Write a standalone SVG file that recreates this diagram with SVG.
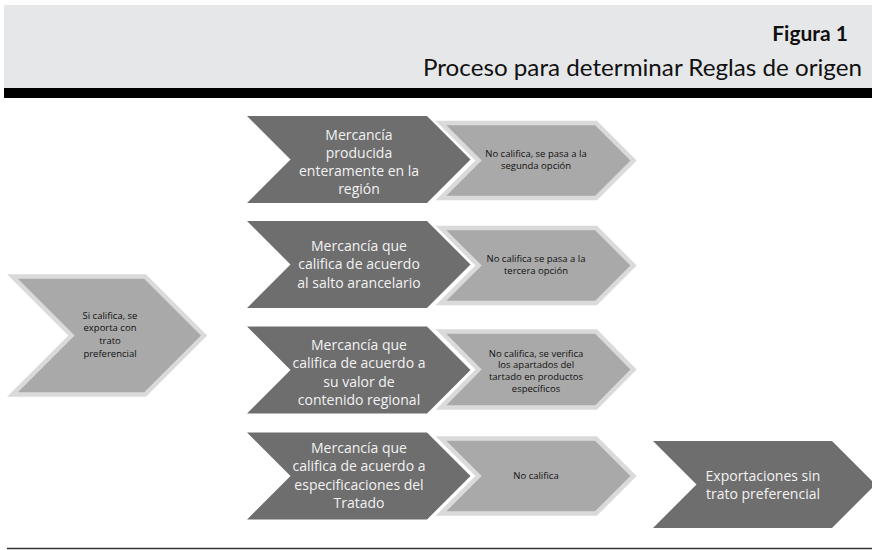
<svg xmlns="http://www.w3.org/2000/svg" width="872" height="550" viewBox="0 0 872 550">
<style>
.dark{fill:#6e6e6e;}
.light{fill:#a9a9a9;stroke:#dadada;stroke-width:4.5;stroke-linejoin:miter;}
.dt{font-family:"Open Sans","Noto Sans",sans-serif;font-size:14px;fill:#f2f2f2;text-anchor:middle;}
.lt{font-family:"Open Sans","Noto Sans",sans-serif;font-size:9.5px;fill:#111;text-anchor:middle;}
.ttl{font-family:"Lato","Open Sans",sans-serif;fill:#111;text-anchor:end;}
</style>
<g id="header">
<rect x="4" y="5" width="868" height="83" fill="#e6e7e8"/>
<rect x="4" y="88" width="868" height="10" fill="#000"/>
<text class="ttl" x="848" y="41" font-size="21" font-weight="bold">Figura 1</text>
<text class="ttl" x="862" y="76" font-size="24" textLength="439" lengthAdjust="spacingAndGlyphs">Proceso para determinar Reglas de origen</text>
</g>
<g id="connectors"></g>
<g id="n-left">
<polygon class="light" points="12.5,276.5 145,276.5 204,335.5 145,394.5 12.5,394.5 71.5,335.5"/>
<text class="lt"><tspan x="110" y="318.5">Si califica, se</tspan><tspan x="110" y="331.3">exporta con</tspan><tspan x="110" y="344.1">trato</tspan><tspan x="110" y="356.9">preferencial</tspan></text>
</g>
<g id="n-d1">
<polygon class="dark" points="247,116 427,116 470.5,159.5 427,203 247,203 290.5,159.5"/>
<text class="dt"><tspan x="359" y="139.5">Mercancía</tspan><tspan x="359" y="157.5">producida</tspan><tspan x="359" y="175.5">enteramente en la</tspan><tspan x="359" y="193.5">región</tspan></text>
</g>
<g id="n-l1">
<polygon class="light" points="441,123 596,123 633.5,160.5 596,198 441,198 478.5,160.5"/>
<text class="lt"><tspan x="536" y="156.5">No califica, se pasa a la</tspan><tspan x="536" y="168.5">segunda opción</tspan></text>
</g>
<g id="n-d2">
<polygon class="dark" points="247,221 427,221 470.5,264.5 427,308 247,308 290.5,264.5"/>
<text class="dt"><tspan x="359" y="251">Mercancía que</tspan><tspan x="359" y="269.3">califica de acuerdo</tspan><tspan x="359" y="287.6">al salto arancelario</tspan></text>
</g>
<g id="n-l2">
<polygon class="light" points="441,228 596,228 633.5,265.5 596,303 441,303 478.5,265.5"/>
<text class="lt"><tspan x="536" y="262">No califica se pasa a la</tspan><tspan x="536" y="274">tercera opción</tspan></text>
</g>
<g id="n-d3">
<polygon class="dark" points="247,326.5 427,326.5 470.5,370 427,413.5 247,413.5 290.5,370"/>
<text class="dt"><tspan x="359" y="350">Mercancía que</tspan><tspan x="359" y="368.3">califica de acuerdo a</tspan><tspan x="359" y="386.6">su valor de</tspan><tspan x="359" y="404.9">contenido regional</tspan></text>
</g>
<g id="n-l3">
<polygon class="light" points="441,331.5 596,331.5 633.5,369.5 596,407.5 441,407.5 478.5,369.5"/>
<text class="lt"><tspan x="536" y="356.5">No califica, se verifica</tspan><tspan x="536" y="368.3">los apartados del</tspan><tspan x="536" y="380.1">tartado en productos</tspan><tspan x="536" y="391.9">específicos</tspan></text>
</g>
<g id="n-d4">
<polygon class="dark" points="247,432.5 427,432.5 470.5,476 427,519.5 247,519.5 290.5,476"/>
<text class="dt"><tspan x="359" y="453">Mercancía que</tspan><tspan x="359" y="471.3">califica de acuerdo a</tspan><tspan x="359" y="489.6">especificaciones del</tspan><tspan x="359" y="507.9">Tratado</tspan></text>
</g>
<g id="n-l4">
<polygon class="light" points="441,438.5 596,438.5 633.5,476 596,513.5 441,513.5 478.5,476"/>
<text class="lt"><tspan x="536" y="478.5">No califica</tspan></text>
</g>
<g id="n-last">
<polygon class="dark" points="653,441 832,441 875.5,484.5 832,528 653,528 696.5,484.5"/>
<text class="dt"><tspan x="763" y="481">Exportaciones sin</tspan><tspan x="763" y="498.5">trato preferencial</tspan></text>
</g>
<line x1="7" y1="548.5" x2="872" y2="548.5" stroke="#333" stroke-width="1.5"/>
</svg>
